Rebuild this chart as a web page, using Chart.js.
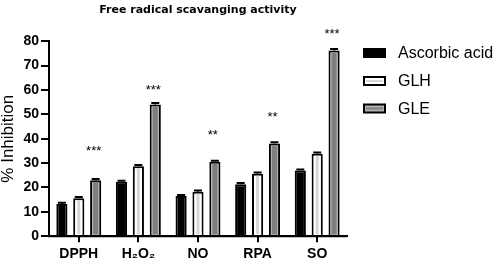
<!DOCTYPE html>
<html><head><meta charset="utf-8">
<script src="https://cdn.jsdelivr.net/npm/chart.js@4/dist/chart.umd.min.js"></script>
<style>html,body{margin:0;padding:0;background:#fff}#wrap{width:498px;height:264px}</style>
</head><body><div id="wrap"><canvas id="c" width="498" height="264"></canvas></div>
<script>
const categories = ['DPPH', 'H\u2082O\u2082', 'NO', 'RPA', 'SO'];
const seriesNames = ['Ascorbic acid', 'GLH', 'GLE'];
const ascorbic = [13.2, 22.3, 16.5, 21.3, 27.0];
const glh = [15.6, 28.7, 18.2, 25.6, 33.8];
const gle = [23.0, 54.0, 30.5, 38.0, 76.2];
const ascorbicErr = [0.5, 0.4, 0.4, 0.5, 0.4];
const glhErr = [0.5, 0.5, 0.5, 0.5, 0.5];
const gleErr = [0.5, 0.6, 0.5, 0.5, 0.6];
const sigLabels = ['***', '***', '**', '**', '***'];
const sigY = [35.6, 60.8, 42.2, 49.6, 83.5];
const yTicks = [0, 10, 20, 30, 40, 50, 60, 70, 80];

const FONT = '"Liberation Sans", Arial, sans-serif';
const errs = [ascorbicErr, glhErr, gleErr];
const fills = ['#000000', '#ffffff', '#b0b0b0'];
const stripes = [null, '#d6d6d6', '#7e7e7e'];
const stripeW = [0, 3, 5];

const extras = {
  id: 'extras',
  afterDatasetsDraw(chart) {
    const ctx = chart.ctx;
    const ys = chart.scales.y;
    const area = chart.chartArea;
    ctx.save();
    // inner stripes of the bars
    chart.data.datasets.forEach((ds, di) => {
      if (!stripes[di]) return;
      const meta = chart.getDatasetMeta(di);
      ctx.fillStyle = stripes[di];
      meta.data.forEach((bar) => {
        const top = bar.y + 2, bottom = bar.base - 1;
        ctx.fillRect(bar.x - stripeW[di] / 2, top, stripeW[di], bottom - top);
      });
    });
    // error bars
    ctx.strokeStyle = '#000';
    ctx.lineWidth = 2;
    chart.data.datasets.forEach((ds, di) => {
      const meta = chart.getDatasetMeta(di);
      meta.data.forEach((bar, i) => {
        const v = ds.data[i];
        const e = errs[di][i];
        const yt = ys.getPixelForValue(v + e);
        const w = 8;
        ctx.beginPath();
        ctx.moveTo(bar.x, ys.getPixelForValue(v));
        ctx.lineTo(bar.x, yt);
        ctx.moveTo(bar.x - w / 2, yt);
        ctx.lineTo(bar.x + w / 2, yt);
        ctx.stroke();
      });
    });
    // redraw the base line over the bar bottoms
    ctx.beginPath();
    ctx.moveTo(area.left - 1, area.bottom);
    ctx.lineTo(area.right, area.bottom);
    ctx.stroke();
    // significance stars
    const gMeta = chart.getDatasetMeta(2);
    ctx.fillStyle = '#000';
    ctx.font = '13px ' + FONT;
    ctx.textAlign = 'center';
    ctx.textBaseline = 'middle';
    gMeta.data.forEach((bar, i) => {
      ctx.fillText(sigLabels[i], bar.x - 2, ys.getPixelForValue(sigY[i]) + 2);
    });
    // legend
    const lx = area.right + 17;
    const rowY = [53, 81, 108.5];
    ctx.textAlign = 'left';
    ctx.font = '16px ' + FONT;
    seriesNames.forEach((name, k) => {
      const y = rowY[k];
      ctx.fillStyle = fills[k];
      ctx.fillRect(lx, y - 4, 21, 8);
      if (stripes[k]) {
        ctx.fillStyle = stripes[k];
        ctx.fillRect(lx + 2, y - 1, 17, 2);
      }
      ctx.strokeStyle = '#000';
      ctx.lineWidth = 2;
      ctx.strokeRect(lx, y - 4, 21, 8);
      ctx.fillStyle = '#000';
      ctx.fillText(name, lx + 34, y + 1);
    });
    ctx.restore();
  }
};

new Chart(document.getElementById('c'), {
  type: 'bar',
  data: {
    labels: categories,
    datasets: [
      { label: seriesNames[0], data: ascorbic, backgroundColor: fills[0], borderColor: '#000', borderWidth: 2, borderSkipped: 'bottom', inflateAmount: 0 },
      { label: seriesNames[1], data: glh, backgroundColor: fills[1], borderColor: '#000', borderWidth: 2, borderSkipped: 'bottom', inflateAmount: 0 },
      { label: seriesNames[2], data: gle, backgroundColor: fills[2], borderColor: '#000', borderWidth: 2, borderSkipped: 'bottom', inflateAmount: 0 }
    ]
  },
  options: {
    responsive: false,
    animation: false,
    devicePixelRatio: 1,
    categoryPercentage: 0.85,
    barPercentage: 0.66,
    layout: { padding: { top: 0, right: 151, left: -2, bottom: -3 } },
    plugins: {
      title: {
        display: true,
        fullSize: false,
        text: 'Free radical scavanging activity',
        font: { family: '"DejaVu Sans", Verdana, sans-serif', size: 11, weight: 'bold' },
        color: '#000',
        padding: { top: 4, bottom: 24 }
      },
      legend: { display: false },
      tooltip: { enabled: false }
    },
    scales: {
      x: {
        grid: { display: true, drawOnChartArea: false, offset: false, color: '#000', lineWidth: 2, tickLength: 6 },
        border: { color: '#000', width: 2 },
        ticks: { color: '#000', font: { family: FONT, size: 14, weight: 'bold' }, padding: 4 }
      },
      y: {
        min: 0, max: 80,
        afterBuildTicks: (s) => { s.ticks = yTicks.map(v => ({ value: v })); },
        grid: { display: true, drawOnChartArea: false, color: '#000', lineWidth: 2, tickLength: 8 },
        border: { color: '#000', width: 2 },
        ticks: { color: '#000', font: { family: FONT, size: 14, weight: 'bold' }, padding: 2 },
        title: { display: true, text: '% Inhibition', color: '#000', font: { family: FONT, size: 17 }, padding: { top: 0, bottom: 3 } }
      }
    }
  },
  plugins: [extras]
});
</script></body></html>
